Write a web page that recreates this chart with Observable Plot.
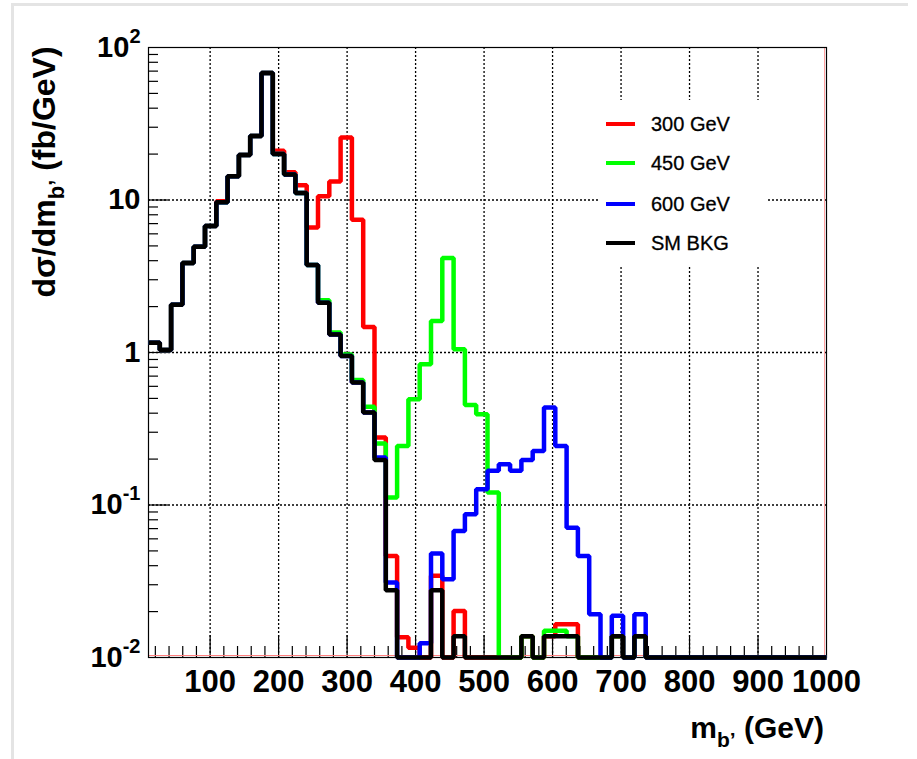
<!DOCTYPE html>
<html><head><meta charset="utf-8">
<script src="https://cdn.jsdelivr.net/npm/d3@7"></script>
<script src="https://cdn.jsdelivr.net/npm/@observablehq/plot@0.6"></script>
<style>
html,body{margin:0;padding:0;background:#fff;}
#wrap{position:relative;width:917px;height:759px;overflow:hidden;background:#fff;}
#border{position:absolute;left:11px;top:3px;width:894px;height:770px;border-top:3px solid #e4e4e4;border-left:3px solid #e4e4e4;}
#chart{position:absolute;left:0;top:0;}
</style></head><body>
<div id="wrap"><div id="border"></div><div id="chart"></div></div>
<script>
// ---- axis / binning ----
const xMin = 10, xMax = 1000, nBins = 60;
const yMin = 0.01, yMax = 100;
const xTickLabels = [100, 200, 300, 400, 500, 600, 700, 800, 900, 1000];
const xGridValues = [100, 200, 300, 400, 500, 600, 700, 800, 900];
const yTickValues = [0.01, 0.1, 1, 10, 100];
const yTickLabels = ["10^-2", "10^-1", "1", "10", "10^2"];
const yGridValues = [0.1, 1, 10];

// ---- series ----
const seriesNames = ["300 GeV", "450 GeV", "600 GeV", "SM BKG"];
const seriesColors = ["#ff0000", "#00ff00", "#0000ff", "#000000"];

const sig300 = [1.16,1.04,2.06,3.86,4.94,6.76,9.8,14.3,19.7,26.3,
  68.1,21.0,15.2,12.5,6.6,10.6,13.2,25.7,7.43,1.47,
  0.277,0.0463,0.0136,0.0116,0,0.0343,0,0.0202,0,0,
  0,0,0,0.0138,0,0.0138,0.0165,0.0165,0,0,
  0,0.0138,0,0.0138,0,0,0,0,0,0,
  0,0,0,0,0,0,0,0,0,0];
const sig450 = [1.16,1.04,2.06,3.86,4.94,6.76,9.65,14.3,19.7,26.3,
  68.1,20.0,14.7,11.1,3.75,2.2,1.35,0.97,0.66,0.44,
  0.253,0.112,0.244,0.494,0.839,1.61,4.16,1.05,0.452,0.394,
  0.121,0,0,0.0138,0,0.015,0.015,0.0138,0,0,
  0,0.0138,0,0.0138,0,0,0,0,0,0,
  0,0,0,0,0,0,0,0,0,0];
const sig600 = [1.16,1.04,2.06,3.86,4.94,6.76,9.65,14.3,19.7,26.3,
  68.1,20.0,14.7,11.1,3.75,2.12,1.31,0.95,0.636,0.404,
  0.205,0.031,0,0,0.0124,0.048,0.0326,0.0676,0.087,0.127,
  0.1675,0.185,0.1675,0.197,0.226,0.436,0.244,0.071,0.0463,0.0192,
  0,0.0188,0,0.0192,0,0,0,0,0,0,
  0,0,0,0,0,0,0,0,0,0];
const smBkg = [1.16,1.04,2.06,3.86,4.94,6.76,9.65,14.3,19.7,26.3,
  68.1,20.0,14.7,11.1,3.75,2.12,1.31,0.95,0.636,0.404,
  0.197,0.0276,0,0,0,0.0276,0,0.0138,0,0,
  0,0,0,0.0138,0,0.0138,0.0138,0.0138,0,0,
  0,0.0138,0,0.0138,0,0,0,0,0,0,
  0,0,0,0,0,0,0,0,0,0];
const seriesValues = [sig300, sig450, sig600, smBkg];

// ---- build step data ----
const binW = (xMax - xMin) / nBins;
function stepData(vals, name) {
  const pts = vals.map((v, i) => ({x: xMin + i * binW, y: Math.max(v, yMin), s: name}));
  pts.push({x: xMax, y: Math.max(vals[vals.length - 1], yMin), s: name});
  return pts;
}

// ticks
const xMinor = d3.range(20, 1000, 20).filter(v => v % 100 !== 0);
const yMinor = [];
[0.01, 0.1, 1, 10].forEach(d => { for (let k = 2; k <= 9; k++) yMinor.push(d * k); });

const W = 917, H = 759;
const mL = 148, mR = 91, mT = 47, mB = 102;
const frameW = W - mL - mR, frameH = H - mT - mB;
const font = "'Liberation Sans', Arial, Helvetica, sans-serif";

const histMarks = seriesValues.map((vals, i) =>
  Plot.line(stepData(vals, seriesNames[i]), {
    x: "x", y: "y", curve: "step-after",
    stroke: seriesColors[i], strokeWidth: 4.5,
    strokeLinejoin: "miter", strokeLinecap: "butt"
  })
);

const chart = Plot.plot({
  width: W, height: H,
  marginLeft: mL, marginRight: mR, marginTop: mT, marginBottom: mB,
  style: {background: "transparent", fontFamily: font, overflow: "visible"},
  x: {domain: [xMin, xMax]},
  y: {type: "log", domain: [yMin, yMax]},
  marks: [
    Plot.gridX(xGridValues, {stroke: "#000", strokeOpacity: 1, strokeWidth: 1.3, strokeDasharray: "2,2"}),
    Plot.gridY(yGridValues, {stroke: "#000", strokeOpacity: 1, strokeWidth: 1.3, strokeDasharray: "2,2"}),
    Plot.tickX(xMinor, {x: d => d, insetTop: frameH - 11, stroke: "#000", strokeWidth: 1.2}),
    Plot.tickX(xGridValues, {x: d => d, insetTop: frameH - 22, stroke: "#000", strokeWidth: 1.2}),
    Plot.tickY(yMinor, {y: d => d, insetRight: frameW - 10, stroke: "#000", strokeWidth: 1.2}),
    Plot.tickY(yGridValues, {y: d => d, insetRight: frameW - 20, stroke: "#000", strokeWidth: 1.2}),
    Plot.ruleY([yMin], {stroke: "#ff8080", strokeWidth: 1, dy: -2}),
    Plot.ruleX([xMax], {stroke: "#ffa0a0", strokeWidth: 1, dx: -2}),
    Plot.frame({stroke: "#000", strokeWidth: 1.2}),
    ...histMarks,
    Plot.axisX(xTickLabels, {tickSize: 0, tickPadding: 12, fontSize: 31, fontWeight: "bold", label: null, fill: "#000",
      tickFormat: d => String(d)}),
    Plot.axisY(yTickValues, {tickSize: 0, tickPadding: 8, fontSize: 29, fontWeight: "bold", label: null, fill: "#000",
      tickFormat: d => yTickLabels[yTickValues.indexOf(d)]})
  ]
});
document.getElementById("chart").appendChild(chart);

const svg = d3.select(chart);
// superscripts in y tick labels
svg.selectAll('g[aria-label="y-axis tick label"] text').each(function() {
  const t = this.textContent;
  const m = t.match(/^(\d+)\^(.+)$/);
  if (m) {
    const el = d3.select(this);
    el.text("");
    el.append("tspan").text(m[1]);
    el.append("tspan").attr("font-size", 20).attr("dy", -14).text(m[2]);
  }
});

// axis titles
const yt = svg.append("text")
  .attr("transform", "translate(55,172) rotate(-90)")
  .attr("text-anchor", "middle")
  .attr("font-family", font).attr("font-weight", "bold").attr("font-size", 32).attr("fill", "#000");
yt.append("tspan").text("dσ/dm");
yt.append("tspan").attr("font-size", 22).attr("dy", 9).text("b’");
yt.append("tspan").attr("dy", -9).text(" (fb/GeV)");

const xt = svg.append("text")
  .attr("x", 824).attr("y", 738)
  .attr("text-anchor", "end")
  .attr("font-family", font).attr("font-weight", "bold").attr("font-size", 30).attr("fill", "#000");
xt.append("tspan").text("m");
xt.append("tspan").attr("font-size", 21).attr("dy", 9).text("b’");
xt.append("tspan").attr("dy", -9).text(" (GeV)");

// legend
const lg = svg.append("g").attr("text-anchor", "start");
lg.append("rect").attr("x", 598).attr("y", 100).attr("width", 170).attr("height", 165).attr("fill", "#fff");
const legY = [124, 163, 204, 243];
seriesNames.forEach((n, i) => {
  lg.append("line").attr("x1", 606).attr("x2", 635).attr("y1", legY[i]).attr("y2", legY[i])
    .attr("stroke", seriesColors[i]).attr("stroke-width", 4);
  lg.append("text").attr("x", 651).attr("y", legY[i]).attr("dy", "0.35em")
    .attr("text-anchor", "start")
    .attr("font-family", font).attr("font-size", 20).attr("fill", "#000")
    .attr("stroke", "#000").attr("stroke-width", 0.3).text(n);
});
</script>
</body></html>
